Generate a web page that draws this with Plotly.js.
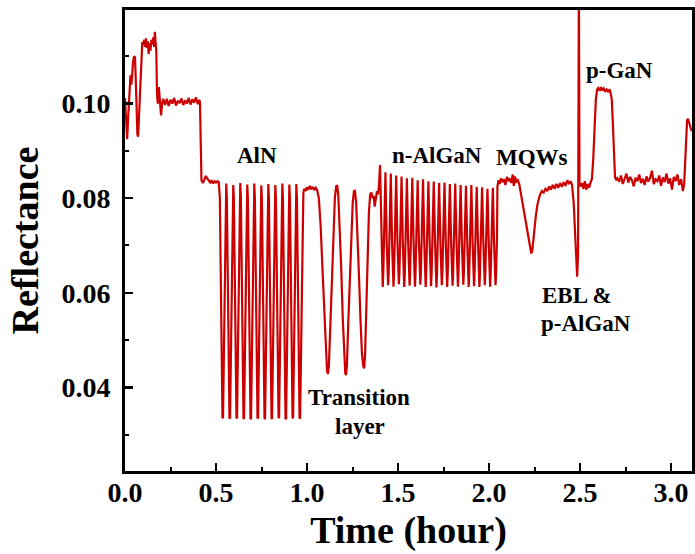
<!DOCTYPE html>
<html>
<head>
<meta charset="utf-8">
<script src="https://cdn.plot.ly/plotly-3.0.1.min.js"></script>
<style>html,body{margin:0;padding:0;background:#fff}#chart{width:695px;height:554px}</style>
</head>
<body>
<div id="chart"></div>
<script>
// ---- Data (time in hours, reflectance) ----
// Start-up / heating / nucleation
const startT = [0.000,0.004,0.008,0.012,0.016,0.020,0.025,0.030,0.035,0.040,0.045,0.050,0.055,0.060,0.064,0.068,0.072,0.076,0.080,0.085,0.090,0.095,
  0.100,0.105,0.110,0.115,0.120,0.125,0.130,0.135,0.140,0.145,0.150,0.155,0.160,0.164,0.168,0.172,0.176,0.180,0.186,0.192,0.198,0.204,
  0.210,0.220,0.230,0.240,0.250,0.260,0.270,0.280,0.290,0.300,0.310,0.320,0.330,0.340,0.350,0.360,0.370,0.380,0.390,0.400,0.408,0.412,0.416,
  0.420,0.428,0.436,0.444,0.452,0.460,0.468,0.476,0.484,0.492,0.500,0.508,0.515];
const startR = [0.1012,0.0985,0.0945,0.0925,0.0960,0.0990,0.1030,0.1060,0.1040,0.1075,0.1090,0.1100,0.1098,0.1040,0.0970,0.0935,0.0930,0.0965,0.1010,0.1060,0.1100,0.1130,
  0.1125,0.1135,0.1120,0.1138,0.1118,0.1132,0.1105,0.1128,0.1112,0.1135,0.1125,0.1140,0.1120,0.1152,0.1130,0.1110,0.1020,0.1000,0.1035,0.1010,0.0975,0.1000,
  0.1010,0.0997,0.1010,0.0995,0.1008,0.1000,0.1012,0.0996,0.1006,0.1001,0.1011,0.0997,0.1007,0.1000,0.1012,0.0998,0.1009,0.1002,0.1013,0.0999,0.1008,0.1003,0.0860,
  0.0838,0.0832,0.0840,0.0847,0.0842,0.0836,0.0833,0.0838,0.0831,0.0836,0.0833,0.0836,0.0834];

// AlN layer oscillations
const alnT = [0.5210,0.5250,0.5295,0.5355,0.5385,0.5445,0.5490,0.5530,0.5563,
  0.5595,0.5635,0.5680,0.5740,0.5770,0.5830,0.5875,0.5915,0.5948,
  0.5980,0.6020,0.6065,0.6125,0.6155,0.6215,0.6260,0.6300,0.6333,
  0.6365,0.6405,0.6450,0.6510,0.6540,0.6600,0.6645,0.6685,0.6718,
  0.6750,0.6790,0.6835,0.6895,0.6925,0.6985,0.7030,0.7070,0.7103,
  0.7135,0.7175,0.7220,0.7280,0.7310,0.7370,0.7415,0.7455,0.7488,
  0.7520,0.7560,0.7605,0.7665,0.7695,0.7755,0.7800,0.7840,0.7873,
  0.7905,0.7945,0.7990,0.8050,0.8080,0.8140,0.8185,0.8225,0.8258,
  0.8290,0.8330,0.8375,0.8435,0.8465,0.8525,0.8570,0.8610,0.8643,
  0.8675,0.8715,0.8760,0.8820,0.8850,0.8910,0.8955,0.8995,0.9028,
  0.9060,0.9100,0.9145,0.9205,0.9235,0.9295,0.9340,0.9380,0.9413,
  0.9445,0.9485,0.9530,0.9590,0.9620,0.9680,0.9725,0.9765];
const alnR = [0.0801,0.0660,0.0500,0.0336,0.0335,0.0500,0.0661,0.0800,0.0831,
  0.0799,0.0662,0.0498,0.0335,0.0334,0.0501,0.0660,0.0798,0.0828,
  0.0800,0.0659,0.0501,0.0336,0.0336,0.0499,0.0662,0.0801,0.0832,
  0.0802,0.0661,0.0500,0.0335,0.0335,0.0500,0.0660,0.0800,0.0829,
  0.0800,0.0660,0.0499,0.0334,0.0334,0.0501,0.0659,0.0802,0.0831,
  0.0801,0.0662,0.0500,0.0336,0.0336,0.0498,0.0661,0.0799,0.0827,
  0.0799,0.0660,0.0501,0.0333,0.0334,0.0500,0.0662,0.0800,0.0830,
  0.0800,0.0659,0.0499,0.0335,0.0335,0.0501,0.0660,0.0801,0.0828,
  0.0801,0.0661,0.0500,0.0336,0.0335,0.0499,0.0661,0.0800,0.0831,
  0.0802,0.0660,0.0501,0.0334,0.0334,0.0500,0.0659,0.0799,0.0829,
  0.0799,0.0661,0.0498,0.0335,0.0336,0.0501,0.0662,0.0801,0.0830,
  0.0801,0.0660,0.0500,0.0334,0.0335,0.0500,0.0661,0.0800];

// Transition layer
const transT = [0.980,0.985,0.992,1.000,1.008,1.016,1.024,1.032,1.040,1.048,1.055,
  1.065,1.075,1.085,1.095,1.103,1.110,1.115,1.120,1.128,1.136,1.145,1.153,1.160,1.166,
  1.172,1.180,1.188,1.196,1.204,1.210,1.214,1.219,1.227,1.235,1.243,1.251,1.258,1.263,
  1.270,1.278,1.286,1.294,1.302,1.309,1.314,1.319,1.326,1.333,1.340,1.347,1.354,1.360,
  1.366,1.372,1.378,1.384,1.390,1.396,1.401];
const transR = [0.0812,0.0820,0.0815,0.0823,0.0818,0.0826,0.0819,0.0824,0.0817,0.0822,0.0818,
  0.0800,0.0740,0.0650,0.0560,0.0480,0.0435,0.0428,0.0445,0.0530,0.0630,0.0730,0.0800,0.0825,0.0827,
  0.0805,0.0740,0.0650,0.0550,0.0470,0.0430,0.0426,0.0445,0.0540,0.0640,0.0730,0.0790,0.0815,0.0817,
  0.0790,0.0720,0.0630,0.0540,0.0470,0.0445,0.0440,0.0470,0.0570,0.0680,0.0770,0.0808,0.0812,0.0800,
  0.0805,0.0782,0.0800,0.0815,0.0808,0.0830,0.0870];

// n-AlGaN oscillations
const nalganT = [1.4080,1.4130,1.4160,1.4190,1.4240,1.4308,
  1.4375,1.4425,1.4455,1.4485,1.4535,1.4603,  1.4670,1.4720,1.4750,1.4780,1.4830,1.4898,
  1.4965,1.5015,1.5045,1.5075,1.5125,1.5193,  1.5260,1.5310,1.5340,1.5370,1.5420,1.5488,
  1.5555,1.5605,1.5635,1.5665,1.5715,1.5783,  1.5850,1.5900,1.5930,1.5960,1.6010,1.6078,
  1.6145,1.6195,1.6225,1.6255,1.6305,1.6373,  1.6440,1.6490,1.6520,1.6550,1.6600,1.6668,
  1.6735,1.6785,1.6815,1.6845,1.6895,1.6963,  1.7030,1.7080,1.7110,1.7140,1.7190,1.7258,
  1.7325,1.7375,1.7405,1.7435,1.7485,1.7553,  1.7620,1.7670,1.7700,1.7730,1.7780,1.7848,
  1.7915,1.7965,1.7995,1.8025,1.8075,1.8143,  1.8210,1.8260,1.8290,1.8320,1.8370,1.8438,
  1.8505,1.8555,1.8585,1.8615,1.8665,1.8733,  1.8800,1.8850,1.8880,1.8910,1.8960,1.9028,
  1.9095,1.9145,1.9175,1.9205,1.9255,1.9323,  1.9390,1.9440,1.9470,1.9500,1.9550,1.9618,
  1.9685,1.9735,1.9765,1.9795,1.9845,1.9913,  1.9980,2.0030,2.0060,2.0090,2.0140,2.0208,
  2.0275,2.0325,2.0355,2.0385,2.0435];
const nalganR = [0.0712,0.0640,0.0612,0.0641,0.0710,0.0855,
  0.0709,0.0641,0.0616,0.0640,0.0711,0.0852,  0.0710,0.0639,0.0613,0.0642,0.0710,0.0848,
  0.0711,0.0642,0.0618,0.0640,0.0709,0.0846,  0.0710,0.0640,0.0612,0.0639,0.0711,0.0842,
  0.0709,0.0641,0.0615,0.0641,0.0710,0.0843,  0.0711,0.0640,0.0613,0.0640,0.0710,0.0838,
  0.0710,0.0642,0.0617,0.0641,0.0709,0.0840,  0.0710,0.0639,0.0612,0.0640,0.0711,0.0836,
  0.0709,0.0641,0.0614,0.0642,0.0710,0.0835,  0.0711,0.0640,0.0611,0.0639,0.0710,0.0832,
  0.0710,0.0641,0.0616,0.0640,0.0709,0.0833,  0.0710,0.0640,0.0612,0.0641,0.0711,0.0830,
  0.0709,0.0642,0.0615,0.0640,0.0710,0.0831,  0.0711,0.0639,0.0613,0.0642,0.0710,0.0828,
  0.0710,0.0641,0.0617,0.0640,0.0709,0.0826,  0.0710,0.0640,0.0612,0.0639,0.0711,0.0828,
  0.0709,0.0641,0.0614,0.0641,0.0710,0.0824,  0.0711,0.0642,0.0612,0.0640,0.0710,0.0823,
  0.0710,0.0640,0.0616,0.0642,0.0709,0.0820,  0.0710,0.0639,0.0613,0.0640,0.0711,0.0822,
  0.0709,0.0641,0.0616,0.0640,0.0710];

// MQWs, EBL & p-AlGaN
const mqwT = [2.046,2.052,2.058,2.066,2.074,2.082,2.090,2.098,2.106,2.114,2.122,2.130,2.136,2.142,2.150,2.158,2.166,
  2.175,2.185,2.195,2.205,2.215,2.225,2.232,2.238,2.245,2.255,2.265,2.278,2.290,2.300,2.310,2.320,2.330,2.340,2.350,
  2.360,2.370,2.380,2.390,2.400,2.410,2.420,2.430,2.440,2.448,2.456,2.465,2.472,2.478,2.484,2.489,2.4935,2.497];
const mqwR = [0.0825,0.0838,0.0830,0.0842,0.0834,0.0840,0.0828,0.0845,0.0836,0.0842,0.0832,0.0850,0.0826,0.0846,0.0835,0.0838,0.0830,
  0.0810,0.0790,0.0765,0.0740,0.0715,0.0695,0.0683,0.0690,0.0720,0.0755,0.0785,0.0805,0.0815,0.0812,0.0820,0.0815,0.0825,0.0818,0.0828,
  0.0820,0.0830,0.0822,0.0832,0.0824,0.0834,0.0826,0.0838,0.0830,0.0836,0.0828,0.0790,0.0720,0.0660,0.0634,0.0680,0.1260,0.0830];

// p-GaN and cool-down
const pganT = [2.503,2.510,2.518,2.526,2.534,2.542,2.550,2.558,2.565,2.572,2.580,2.587,2.594,2.600,2.608,2.615,2.622,2.630,2.638,2.646,2.654,2.662,2.668,2.674,2.680,2.686,2.692,2.698,
  2.705,2.715,2.725,2.735,2.745,2.755,2.765,2.775,2.785,2.795,2.805,2.815,2.825,2.835,2.845,2.855,2.865,2.875,2.885,2.895,2.905,2.915,2.925,2.935,2.945,2.955,2.965,2.975,2.985,2.995,3.005,3.015,3.025,3.035,3.045,3.055,3.065,3.072,
  3.078,3.083,3.088,3.093,3.098,3.104,3.110,3.115];
const pganR = [0.0825,0.0832,0.0820,0.0836,0.0818,0.0830,0.0822,0.0834,0.0840,0.0880,0.0960,0.1010,0.1030,0.1033,0.1027,0.1035,0.1028,0.1032,0.1025,0.1030,0.1026,0.1030,0.1022,0.1010,0.0960,0.0890,0.0845,0.0838,
  0.0842,0.0835,0.0848,0.0830,0.0840,0.0852,0.0833,0.0845,0.0838,0.0825,0.0843,0.0836,0.0850,0.0832,0.0841,0.0828,0.0846,0.0835,0.0843,0.0858,0.0830,0.0840,0.0836,0.0848,0.0826,0.0844,0.0834,0.0852,0.0831,0.0842,0.0818,0.0845,0.0836,0.0850,0.0828,0.0840,0.0815,0.0830,
  0.0880,0.0940,0.0965,0.0968,0.0960,0.0950,0.0945,0.0942];

// Layer labels
const labelText = ['AlN','n-AlGaN','MQWs','Transition','layer','EBL &amp;','p-AlGaN','p-GaN'];
const labelX    = [0.725,1.714,2.236,1.283,1.290,2.482,2.533,2.714];
const labelY    = [0.0891,0.0891,0.0887,0.0378,0.0317,0.0595,0.0535,0.1070];

// Tick labels
const xTickVals = [0.0,0.5,1.0,1.5,2.0,2.5,3.0];
const yTickVals = [0.04,0.06,0.08,0.10];

// ---- Build the chart ----
const t = [].concat(startT, alnT, transT, nalganT, mqwT, pganT);
const r = [].concat(startR, alnR, transR, nalganR, mqwR, pganR);

const fontFam = '"Liberation Serif", "Times New Roman", serif';
const trace = {x: t, y: r, type: 'scatter', mode: 'lines', line: {color: '#cc0000', width: 2.2}, hoverinfo: 'skip'};

const axisCommon = {
  showgrid: false, zeroline: false, showline: true, linecolor: '#000', linewidth: 3, mirror: true,
  ticks: 'inside', ticklen: 8, tickwidth: 2.5, tickcolor: '#000',
  tickfont: {family: fontFam, size: 28, color: '#000', weight: 'bold'}
};

const layout = {
  width: 695, height: 554,
  margin: {l: 125, r: 3, t: 10, b: 83, pad: 0},
  paper_bgcolor: '#fff', plot_bgcolor: '#fff',
  showlegend: false,
  xaxis: Object.assign({}, axisCommon, {
    range: [0, 3.115], tickvals: xTickVals, ticktext: xTickVals.map(v => v.toFixed(1)),
    minor: {dtick: 0.25, tick0: 0, ticks: 'inside', ticklen: 4, tickwidth: 2, tickcolor: '#000'},
    ticklabelstandoff: -6,
    title: {text: 'Time (hour)', font: {family: fontFam, size: 38, color: '#000', weight: 'bold'}, standoff: 10}
  }),
  yaxis: Object.assign({}, axisCommon, {
    range: [0.0223, 0.1198], tickvals: yTickVals, ticktext: yTickVals.map(v => v.toFixed(2)),
    minor: {dtick: 0.01, tick0: 0, ticks: 'inside', ticklen: 4, tickwidth: 2, tickcolor: '#000'},
    ticklabelstandoff: 6,
    title: {text: 'Reflectance', font: {family: fontFam, size: 38, color: '#000', weight: 'bold'}, standoff: 12}
  }),
  annotations: labelText.map((txt, i) => ({
    x: labelX[i], y: labelY[i], xref: 'x', yref: 'y', text: txt, showarrow: false,
    xanchor: 'center', yanchor: 'middle',
    font: {family: fontFam, size: 23, color: '#000', weight: 'bold'}
  }))
};

Plotly.newPlot('chart', [trace], layout, {displayModeBar: false, staticPlot: true});
</script>
</body>
</html>
